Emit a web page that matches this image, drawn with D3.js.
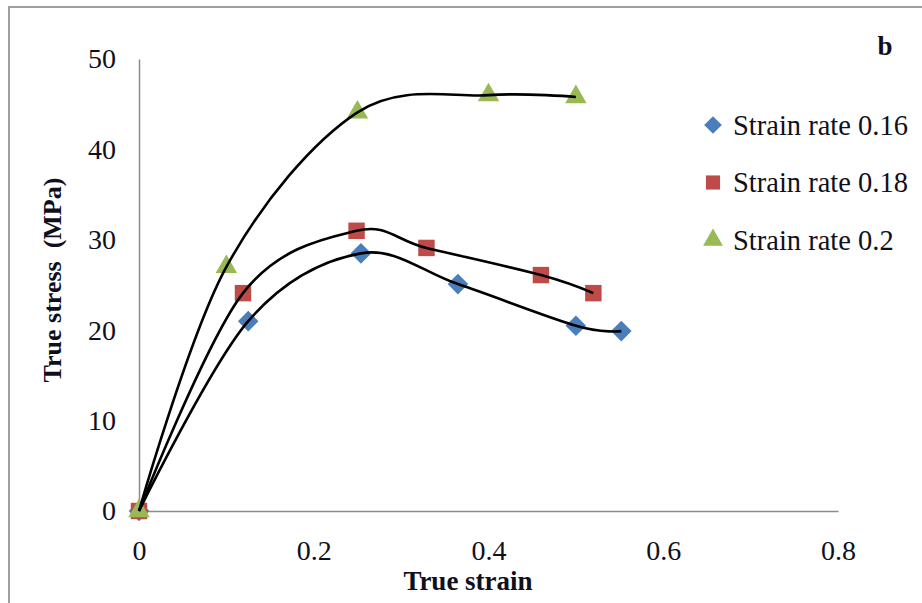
<!DOCTYPE html>
<html>
<head>
<meta charset="utf-8">
<script src="https://cdn.jsdelivr.net/npm/d3@7"></script>
<style>
  body { margin: 0; background: #fff; }
  svg { display: block; font-family: "Liberation Serif", "Times New Roman", serif; }
</style>
</head>
<body>
<div id="chart"></div>
<script>
// values
const seriesNames = ["Strain rate 0.16", "Strain rate 0.18", "Strain rate 0.2"];
const strain016 = [0, 0.125, 0.254, 0.365, 0.5, 0.552];
const stress016 = [0, 21.0, 28.5, 25.1, 20.5, 19.9];
const strain018 = [0, 0.119, 0.249, 0.329, 0.46, 0.52];
const stress018 = [0, 24.1, 31.0, 29.1, 26.1, 24.1];
const strain020 = [0, 0.1, 0.25, 0.4, 0.5];
const stress020 = [0, 27.0, 44.1, 46.0, 45.8];
const xTicks = [0, 0.2, 0.4, 0.6, 0.8];
const yTicks = [0, 10, 20, 30, 40, 50];

const width = 922;
const height = 603;
const colors = ["#4a7ebb", "#be4b48", "#98b954"];
const shapes = [d3.symbolDiamond2, d3.symbolSquare, d3.symbolTriangle];
const textColor = "#10101c";

const series = [
  { name: seriesNames[0], x: strain016, y: stress016 },
  { name: seriesNames[1], x: strain018, y: stress018 },
  { name: seriesNames[2], x: strain020, y: stress020 }
].map((s, i) => ({
  name: s.name,
  color: colors[i],
  shape: shapes[i],
  points: s.x.map((v, j) => [v, s.y[j]])
}));

const svg = d3.select("#chart").append("svg")
  .attr("width", width)
  .attr("height", height);

// outer frame of the figure
svg.append("rect")
  .attr("x", 9).attr("y", 7)
  .attr("width", width + 20).attr("height", height + 20)
  .attr("fill", "#fff")
  .attr("stroke", "#a0a0a0")
  .attr("stroke-width", 2);

const x = d3.scaleLinear().domain([0, 0.8]).range([139, 838]);
const y = d3.scaleLinear().domain([0, 50]).range([511, 59]);

// axes without tick marks
const xAxis = svg.append("g")
  .attr("transform", `translate(0,${y(0)})`)
  .call(d3.axisBottom(x).tickValues(xTicks).tickSize(0).tickPadding(40).tickFormat(d => d));
const yAxis = svg.append("g")
  .attr("transform", `translate(${x(0)},0)`)
  .call(d3.axisLeft(y).tickValues(yTicks).tickSize(0).tickPadding(23));

[xAxis, yAxis].forEach(a => {
  a.select(".domain").attr("stroke", "#8c8c8c").attr("stroke-width", 1.5);
  a.selectAll("text")
    .attr("font-family", "Liberation Serif, Times New Roman, serif")
    .attr("font-size", 28)
    .attr("fill", textColor);
});
xAxis.selectAll("text").attr("dy", "0.32em");

// smoothed curves
const line = d3.line()
  .x(d => x(d[0]))
  .y(d => y(d[1]))
  .curve(d3.curveCardinal.tension(0));

// markers first, curves drawn on top of them like the reference
series.forEach(s => {
  svg.append("g").selectAll("path")
    .data(s.points)
    .join("path")
    .attr("transform", d => `translate(${x(d[0])},${y(d[1])})`)
    .attr("d", d3.symbol().type(s.shape).size(s.shape === d3.symbolTriangle ? 200 : 270))
    .attr("fill", s.color);
});

series.forEach(s => {
  svg.append("path")
    .datum(s.points)
    .attr("d", line)
    .attr("fill", "none")
    .attr("stroke", "#000")
    .attr("stroke-width", 2.6);
});

// axis titles
svg.append("text")
  .attr("x", 468).attr("y", 590)
  .attr("text-anchor", "middle")
  .attr("font-weight", "bold")
  .attr("font-size", 27)
  .attr("fill", textColor)
  .text("True strain");

svg.append("text")
  .attr("transform", "translate(61,280) rotate(-90)")
  .attr("text-anchor", "middle")
  .attr("font-weight", "bold")
  .attr("font-size", 26)
  .attr("fill", textColor)
  .style("white-space", "pre")
  .text("True stress  (MPa)");

// panel letter
svg.append("text")
  .attr("x", 885).attr("y", 55)
  .attr("text-anchor", "middle")
  .attr("font-weight", "bold")
  .attr("font-size", 27)
  .attr("fill", textColor)
  .text("b");

// legend
const legend = svg.append("g").selectAll("g")
  .data(series)
  .join("g")
  .attr("transform", (d, i) => `translate(713,${125 + i * 57.5})`);

legend.append("path")
  .attr("d", d => d3.symbol().type(d.shape).size(d.shape === d3.symbolTriangle ? 170 : 200)())
  .attr("fill", d => d.color);

legend.append("text")
  .attr("x", 20)
  .attr("dy", "0.35em")
  .attr("font-size", 28.5)
  .attr("fill", textColor)
  .text(d => d.name);
</script>
</body>
</html>
